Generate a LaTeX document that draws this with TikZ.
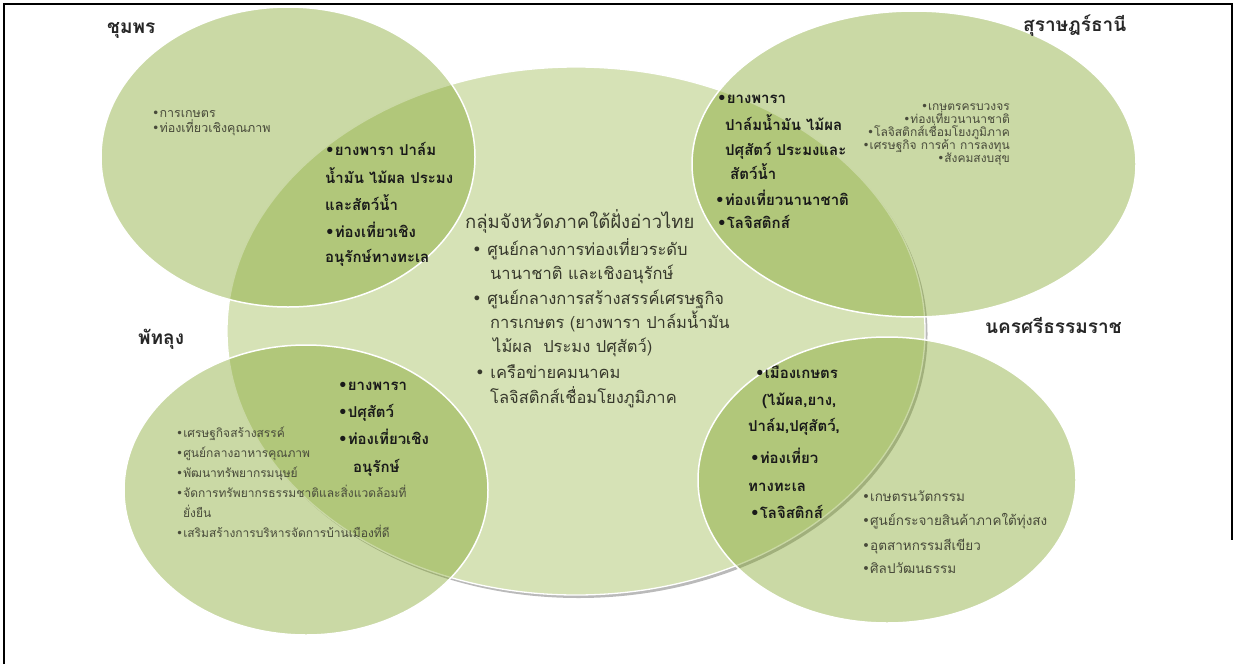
\documentclass[tikz,border=0pt]{standalone}
\usepackage{fontspec}
\newfontfamily\thai[Script=Thai]{Loma}
\newfontfamily\dvs{DejaVu Sans}
\newcommand\mybul{{\dvs\char"2022}}
\definecolor{ellfill}{RGB}{127,163,38}
\definecolor{cenfill}{RGB}{214,226,182}
\definecolor{smalltxt}{RGB}{72,74,58}
\definecolor{centxt}{RGB}{55,56,44}
\tikzset{
  tl/.style={anchor=base west, inner sep=0pt},
  tr/.style={anchor=base east, inner sep=0pt},
  prov/.style={font=\thai\bfseries\fontsize{19}{22}\selectfont, text=black!85},
  smalltext/.style={font=\thai\fontsize{12}{14}\selectfont, text=smalltxt},
  midtext/.style={font=\thai\fontsize{13.5}{16}\selectfont, text=smalltxt},
  boldtext/.style={font=\thai\bfseries\fontsize{15}{18}\selectfont, text=black!90},
  centext/.style={font=\thai\fontsize{16.5}{20}\selectfont, text=centxt},
  centitle/.style={font=\thai\fontsize{18.5}{22}\selectfont, text=centxt},
  outer/.style={fill=ellfill, fill opacity=0.415, draw=white, line width=1.5pt, draw opacity=1},
}
\begin{document}
\begin{tikzpicture}[x=1pt,y=-1pt]
\useasboundingbox (0,0) rectangle (1236,664);
% frame
\draw[line width=2pt] (4,664) -- (4,4) -- (1232,4) -- (1232,540);
% center ellipse with shadow
\fill[black!45, opacity=0.6] (578.5,334) ellipse [x radius=349pt, y radius=264pt];
\filldraw[fill=cenfill, draw=white, line width=1.3pt] (576,331) ellipse [x radius=349pt, y radius=264pt];
% outer ellipses
\filldraw[outer] (288,157) ellipse [x radius=187pt, y radius=150pt];
\filldraw[outer] (914,164) ellipse [x radius=222pt, y radius=153pt];
\filldraw[outer] (306,490) ellipse [x radius=182pt, y radius=145pt];
\filldraw[outer] (887,480) ellipse [x radius=189pt, y radius=143pt];

% province titles
\node[tl,prov] (tChum) at (107,33) {ชุมพร};
\node[tl,prov] (tSurat) at (1023,31) {สุราษฎร์ธานี};
\node[tl,prov] (tPhat) at (138,344) {พัทลุง};
\node[tl,prov] (tNakhon) at (985,333) {นครศรีธรรมราช};

% Chumphon
\node[tl,smalltext,font=\thai\fontsize{12.5}{14}\selectfont] (c1) at (152,117) {\mybul การเกษตร};
\node[tl,smalltext,font=\thai\fontsize{12.5}{14}\selectfont] (c2) at (152,132) {\mybul ท่องเที่ยวเชิงคุณภาพ};
\node[tl,boldtext] (co1) at (325,155) {\mybul ยางพารา ปาล์ม};
\node[tl,boldtext] (co2) at (325,183) {น้ำมัน ไม้ผล ประมง};
\node[tl,boldtext] (co3) at (325,210) {และสัตว์น้ำ};
\node[tl,boldtext] (co4) at (325,237) {\mybul ท่องเที่ยวเชิง};
\node[tl,boldtext] (co5) at (325,262) {อนุรักษ์ทางทะเล};

% Surat Thani
\node[tl,boldtext] (so1) at (717,103) {\mybul ยางพารา};
\node[tl,boldtext] (so2) at (725,130) {ปาล์มน้ำมัน ไม้ผล};
\node[tl,boldtext] (so3) at (725,155) {ปศุสัตว์ ประมงและ};
\node[tl,boldtext] (so4) at (730,179) {สัตว์น้ำ};
\node[tl,boldtext] (so5) at (715,205) {\mybul ท่องเที่ยวนานาชาติ};
\node[tl,boldtext] (so6) at (717,228) {\mybul โลจิสติกส์};
\node[tr,smalltext] (s1) at (1010,110) {\mybul เกษตรครบวงจร};
\node[tr,smalltext] (s2) at (1010,123) {\mybul ท่องเที่ยวนานาชาติ};
\node[tr,smalltext] (s3) at (1010,136) {\mybul โลจิสติกส์เชื่อมโยงภูมิภาค};
\node[tr,smalltext] (s4) at (1010,149) {\mybul เศรษฐกิจ การค้า การลงทุน};
\node[tr,smalltext] (s5) at (1010,162) {\mybul สังคมสงบสุข};

% Center
\node[tl,centitle] (m0) at (465,228) {กลุ่มจังหวัดภาคใต้ฝั่งอ่าวไทย};
\node[tl,centext] (m1) at (472,255) {\mybul\ ศูนย์กลางการท่องเที่ยวระดับ};
\node[tl,centext] (m2) at (490,279) {นานาชาติ และเชิงอนุรักษ์};
\node[tl,centext] (m3) at (472,304) {\mybul\ ศูนย์กลางการสร้างสรรค์เศรษฐกิจ};
\node[tl,centext] (m4) at (490,328) {การเกษตร (ยางพารา ปาล์มน้ำมัน};
\node[tl,centext] (m5) at (493,352) {ไม้ผล\ \ ประมง ปศุสัตว์)};
\node[tl,centext] (m6) at (475,378) {\mybul\ เครือข่ายคมนาคม};
\node[tl,centext] (m7) at (490,403) {โลจิสติกส์เชื่อมโยงภูมิภาค};

% Phatthalung
\node[tl,boldtext] (po1) at (338,390) {\mybul ยางพารา};
\node[tl,boldtext] (po2) at (338,417) {\mybul ปศุสัตว์};
\node[tl,boldtext] (po3) at (338,444) {\mybul ท่องเที่ยวเชิง};
\node[tl,boldtext] (po4) at (353,472) {อนุรักษ์};
\node[tl,smalltext] (p1) at (176,437) {\mybul เศรษฐกิจสร้างสรรค์};
\node[tl,smalltext] (p2) at (176,457) {\mybul ศูนย์กลางอาหารคุณภาพ};
\node[tl,smalltext] (p3) at (176,477) {\mybul พัฒนาทรัพยากรมนุษย์};
\node[tl,smalltext] (p4) at (176,497) {\mybul จัดการทรัพยากรธรรมชาติและสิ่งแวดล้อมที่};
\node[tl,smalltext] (p5) at (183,517) {ยั่งยืน};
\node[tl,smalltext] (p6) at (176,537) {\mybul เสริมสร้างการบริหารจัดการบ้านเมืองที่ดี};

% Nakhon Si Thammarat
\node[tl,boldtext] (no1) at (755,378) {\mybul เมืองเกษตร};
\node[tl,boldtext] (no2) at (762,405) {(ไม้ผล,ยาง,};
\node[tl,boldtext] (no3) at (748,431) {ปาล์ม,ปศุสัตว์,};
\node[tl,boldtext] (no4) at (750,463) {\mybul ท่องเที่ยว};
\node[tl,boldtext] (no5) at (748,491) {ทางทะเล};
\node[tl,boldtext] (no6) at (750,518) {\mybul โลจิสติกส์};
\node[tl,midtext] (n1) at (862,501) {\mybul เกษตรนวัตกรรม};
\node[tl,midtext] (n2) at (862,525) {\mybul ศูนย์กระจายสินค้าภาคใต้ทุ่งสง};
\node[tl,midtext] (n3) at (862,550) {\mybul อุตสาหกรรมสีเขียว};
\node[tl,midtext] (n4) at (862,573) {\mybul ศิลปวัฒนธรรม};
\end{tikzpicture}
\end{document}
